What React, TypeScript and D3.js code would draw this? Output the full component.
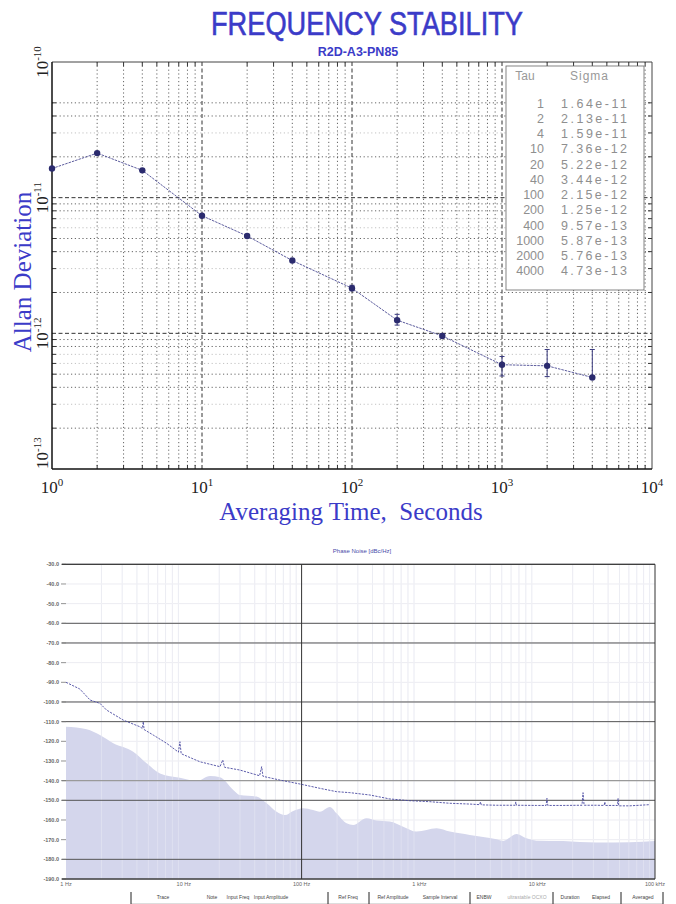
import React from 'react';
import * as d3 from 'd3';

// ---------- Allan deviation data ----------
const tauValues = [1, 2, 4, 10, 20, 40, 100, 200, 400, 1000, 2000, 4000];
const sigmaValues = [1.64e-11, 2.13e-11, 1.59e-11, 7.36e-12, 5.22e-12, 3.44e-12, 2.15e-12, 1.25e-12, 9.57e-13, 5.87e-13, 5.76e-13, 4.73e-13];
const sigmaText = ['1.64e-11', '2.13e-11', '1.59e-11', '7.36e-12', '5.22e-12', '3.44e-12', '2.15e-12', '1.25e-12', '9.57e-13', '5.87e-13', '5.76e-13', '4.73e-13'];
const errLower = [null, null, null, null, null, null, 2.06e-12, 1.15e-12, 0.93e-12, 4.85e-13, 4.8e-13, 4.73e-13];
const errUpper = [null, null, null, null, null, null, 2.26e-12, 1.38e-12, 0.99e-12, 6.75e-13, 7.6e-13, 7.6e-13];
const xDecades = [1, 10, 100, 1000, 10000];
const xDecadeExp = ['0', '1', '2', '3', '4'];
const yDecades = [1e-13, 1e-12, 1e-11, 1e-10];
const yDecadeExp = ['-13', '-12', '-11', '-10'];

// ---------- Phase noise data ----------
const noiseFreq = [1, 1.31, 1.6, 1.94, 2.21, 3.06, 4.24, 4.45, 4.53, 4.6, 5.5, 7.15, 9.0, 9.27, 9.5, 13.7, 20.3, 21.4, 22.2, 29.9, 44, 45.8, 47, 65.5, 96.8, 143, 198, 257, 380, 561, 830, 1227, 1813, 2680, 3250, 3300, 3350, 4515, 6500, 6580, 6660, 9860, 11900, 12100, 12300, 16500, 24000, 24500, 25000, 31850, 37000, 37500, 38000, 48000, 48600, 49200, 61100, 90200];
const noiseDb = [-90, -93.4, -99, -100.7, -104.1, -109.2, -112.6, -113.5, -110, -114, -116.8, -121, -125.5, -120.2, -126.3, -130.4, -132.9, -129.5, -133.2, -134.6, -137.5, -132.9, -137.8, -139.7, -141.7, -143.9, -145.6, -146.1, -147.3, -149.3, -150.2, -150.7, -151.5, -151.9, -152.2, -150.8, -152.3, -152.5, -152.5, -150.8, -152.5, -152.6, -152.6, -149, -152.6, -152.6, -152.5, -146.1, -152.5, -152.5, -152.6, -150.8, -152.6, -152.6, -149, -152.8, -152.8, -152.2];
const floorFreq = [1, 1.5, 1.94, 2.52, 3.72, 4.84, 6.28, 9.27, 12.9, 16.7, 20.3, 26.3, 29.9, 41.5, 50.5, 61.4, 72.2, 84.9, 103, 125, 143, 174, 198, 241, 274, 356, 433, 561, 728, 946, 1400, 1813, 2680, 4515, 5140, 6670, 8110, 9860, 16600, 31850, 61100, 100000];
const floorDb = [-112.6, -113.9, -116.8, -121, -125.3, -131.2, -136.3, -138.5, -140.2, -137.6, -138.3, -144.7, -147.3, -148.1, -151.5, -155.8, -157.5, -155.4, -154, -154.9, -155.8, -153.4, -156.6, -161.7, -162.5, -159.1, -160.3, -160.8, -163.4, -165.9, -164.2, -165.9, -167.6, -169.8, -170.7, -167.1, -169.3, -170.5, -170.7, -171.5, -171.3, -170.7];
const pnTicks = [-30, -40, -50, -60, -70, -80, -90, -100, -110, -120, -130, -140, -150, -160, -170, -180, -190];
const pnDarkTicks = [-30, -60, -70, -100, -110, -150, -180, -190];
const pnMidTicks = [-140];
const freqTicks = [1, 10, 100, 1000, 10000, 100000];
const freqTickLabels = ['1 Hz', '10 Hz', '100 Hz', '1 kHz', '10 kHz', '100 kHz'];
const legendColumns = ['Trace', 'Note', 'Input Freq', 'Input Amplitude', 'Ref Freq', 'Ref Amplitude', 'Sample Interval', 'ENBW', 'ultrastable OCXO', 'Duration', 'Elapsed', 'Averaged'];

// layout constants
const legendColX = [163, 212, 238, 271, 348, 393, 440, 484, 527, 570, 601, 643];
const legendSepX = [131, 328, 369, 470, 553, 621, 663];

const BLUE = '#3b3bc8';

function TopChart() {
  const x = d3.scaleLog().domain([1, 1e4]).range([52, 652]);
  const y = d3.scaleLog().domain([1e-13, 1e-10]).range([469, 62]);
  const minorX: number[] = [];
  [1, 10, 100, 1000].forEach((d) => { for (let m = 2; m <= 9; m++) minorX.push(d * m); });
  const minorY: { v: number; m: number; d: number }[] = [];
  [1e-13, 1e-12, 1e-11].forEach((d, i) => {
    for (let m = 2; m <= 9; m++) {
      if (i === 2 && m >= 6) continue;
      minorY.push({ v: d * m, m, d: i });
    }
  });
  const idx = tauValues.map((_, i) => i);
  const line = d3.line<number>().x((i) => x(tauValues[i])).y((i) => y(sigmaValues[i]));
  const rowY0 = 107.5;
  const rowStep = 15.25;
  return (
    <g>
      <text x={367} y={35} textAnchor="middle" fontFamily="Liberation Sans, Arial, sans-serif" fontSize={33} fill={BLUE} stroke={BLUE} strokeWidth={0.6} textLength={312} lengthAdjust="spacingAndGlyphs">FREQUENCY STABILITY</text>
      <text x={358} y={56} textAnchor="middle" fontFamily="Liberation Sans, Arial, sans-serif" fontWeight="bold" fontSize={12.5} fill={BLUE}>R2D-A3-PN85</text>
      {/* minor vertical grid */}
      {minorX.map((v) => (
        <line key={'mx' + v} x1={x(v)} x2={x(v)} y1={62} y2={469} stroke="#555" strokeWidth={0.9} strokeDasharray="1.2,2.6" />
      ))}
      {minorY.map((o) => (
        <line key={'my' + o.v} x1={52} x2={652} y1={y(o.v)} y2={y(o.v)} stroke={[3, 6, 7].includes(o.m) ? '#bbb' : '#555'} strokeWidth={0.9} strokeDasharray="1.2,2.6" />
      ))}
      {xDecades.slice(1, -1).map((v) => (
        <line key={'dx' + v} x1={x(v)} x2={x(v)} y1={62} y2={469} stroke="#333" strokeWidth={1} strokeDasharray="4,2.5" />
      ))}
      {yDecades.slice(1, -1).map((v) => (
        <line key={'dy' + v} x1={52} x2={652} y1={y(v)} y2={y(v)} stroke="#333" strokeWidth={1} strokeDasharray="4,2.5" />
      ))}
      {/* ticks on borders */}
      {minorX.map((v) => (
        <g key={'tx' + v}>
          <line x1={x(v)} x2={x(v)} y1={62} y2={66} stroke="#333" />
          <line x1={x(v)} x2={x(v)} y1={469} y2={465} stroke="#333" />
        </g>
      ))}
      {minorY.map((o) => (
        <g key={'ty' + o.v}>
          <line x1={652} x2={648} y1={y(o.v)} y2={y(o.v)} stroke="#333" />
          <line x1={52} x2={56} y1={y(o.v)} y2={y(o.v)} stroke="#333" />
        </g>
      ))}
      {/* frame */}
      <line x1={52} x2={652} y1={62} y2={62} stroke="#444" strokeWidth={1} />
      <line x1={652} x2={652} y1={62} y2={469} stroke="#444" strokeWidth={1} />
      <line x1={52} x2={52} y1={62} y2={469} stroke="#111" strokeWidth={1.5} />
      <line x1={52} x2={652} y1={469} y2={469} stroke="#111" strokeWidth={1.5} />
      {/* data line */}
      <path d={line(idx) || ''} fill="none" stroke="#4a4a92" strokeWidth={0.9} strokeDasharray="2.5,1" />
      {idx.map((i) =>
        errLower[i] != null ? (
          <g key={'e' + i} stroke="#3c3c80" strokeWidth={1}>
            <line x1={x(tauValues[i])} x2={x(tauValues[i])} y1={y(errLower[i] as number)} y2={y(errUpper[i] as number)} />
            <line x1={x(tauValues[i]) - 2.5} x2={x(tauValues[i]) + 2.5} y1={y(errUpper[i] as number)} y2={y(errUpper[i] as number)} />
            <line x1={x(tauValues[i]) - 2.5} x2={x(tauValues[i]) + 2.5} y1={y(errLower[i] as number)} y2={y(errLower[i] as number)} />
          </g>
        ) : null
      )}
      {idx.map((i) => (
        <circle key={'p' + i} cx={x(tauValues[i])} cy={y(sigmaValues[i])} r={3.2} fill="#2b2b6e" />
      ))}
      {/* tick labels */}
      {xDecades.map((v, i) => (
        <text key={'xl' + v} x={x(v)} y={493} textAnchor="middle" fontFamily="Liberation Serif, serif" fontSize={17} fill="#222">
          10<tspan dy={-7} fontSize={11}>{xDecadeExp[i]}</tspan>
        </text>
      ))}
      {yDecades.map((v, i) => (
        <text key={'yl' + v} transform={`translate(48,${y(v)}) rotate(-90)`} textAnchor={i === 0 ? 'start' : 'middle'} fontFamily="Liberation Serif, serif" fontSize={17} fill="#222">
          10<tspan dy={-7} fontSize={11}>{yDecadeExp[i]}</tspan>
        </text>
      ))}
      <text transform="translate(31,272) rotate(-90)" textAnchor="middle" fontFamily="Liberation Serif, serif" fontSize={25} fill={BLUE}>Allan Deviation</text>
      <text x={351} y={520} textAnchor="middle" fontFamily="Liberation Serif, serif" fontSize={25} fill={BLUE} style={{ whiteSpace: 'pre' }}>{'Averaging Time,  Seconds'}</text>
      {/* table */}
      <rect x={506} y={66} width={138} height={224} fill="#fff" stroke="#666" strokeWidth={0.8} />
      <text x={525} y={80} textAnchor="middle" fontFamily="Liberation Sans, Arial, sans-serif" fontSize={12} fill="#999">Tau</text>
      <text x={589} y={80} textAnchor="middle" fontFamily="Liberation Sans, Arial, sans-serif" fontSize={12} fill="#999" textLength={38}>Sigma</text>
      {idx.map((i) => (
        <g key={'r' + i} fontFamily="Liberation Sans, Arial, sans-serif" fontSize={12.5} fill="#8f8f8f">
          <text x={544} y={rowY0 + i * rowStep} textAnchor="end">{tauValues[i]}</text>
          <text x={561} y={rowY0 + i * rowStep} textLength={66} lengthAdjust="spacing">{sigmaText[i]}</text>
        </g>
      ))}
    </g>
  );
}

function BottomChart() {
  const x = d3.scaleLog().domain([1, 1e5]).range([66, 655]);
  const y = d3.scaleLinear().domain([-190, -30]).range([879, 564.3]);
  const minorX: number[] = [];
  [1, 10, 100, 1000, 10000].forEach((d) => { for (let m = 2; m <= 9; m++) minorX.push(d * m); });
  const fIdx = floorFreq.map((_, i) => i);
  const nIdx = noiseFreq.map((_, i) => i);
  const area = d3.area<number>().x((i) => x(floorFreq[i])).y0(879).y1((i) => y(floorDb[i])).curve(d3.curveMonotoneX);
  const line = d3.line<number>().x((i) => x(noiseFreq[i])).y((i) => y(noiseDb[i]));
  return (
    <g>
      <text x={362} y={553} textAnchor="middle" fontFamily="Liberation Sans, Arial, sans-serif" fontSize={6} fill="#4a4aa8">Phase Noise [dBc/Hz]</text>
      {/* light grid */}
      {minorX.map((v) => (
        <line key={'vx' + v} x1={x(v)} x2={x(v)} y1={564.3} y2={879} stroke="#e6e7f0" strokeWidth={1} />
      ))}
      {pnTicks.map((v) => (
        <line key={'hl' + v} x1={66} x2={655} y1={y(v)} y2={y(v)} stroke="#ececf2" strokeWidth={1} />
      ))}
      <path d={area(fIdx) || ''} fill="#d4d6ec" />
      {minorX.map((v) => (
        <line key={'vx2' + v} x1={x(v)} x2={x(v)} y1={564.3} y2={879} stroke="#ffffff" strokeOpacity={0.25} strokeWidth={1} />
      ))}
      {pnDarkTicks.map((v) => (
        <line key={'hd' + v} x1={62} x2={655} y1={y(v)} y2={y(v)} stroke="#555" strokeWidth={1} />
      ))}
      {pnMidTicks.map((v) => (
        <line key={'hm' + v} x1={62} x2={655} y1={y(v)} y2={y(v)} stroke="#9a9a9a" strokeWidth={1.2} />
      ))}
      {pnTicks.map((v) => (
        <line key={'tk' + v} x1={61} x2={66} y1={y(v)} y2={y(v)} stroke="#777" strokeWidth={0.8} />
      ))}
      <line x1={x(100)} x2={x(100)} y1={564.3} y2={879} stroke="#333" strokeWidth={1} />
      <line x1={655} x2={655} y1={564.3} y2={879} stroke="#333" strokeWidth={1} />
      <line x1={62} x2={655} y1={564.3} y2={564.3} stroke="#333" strokeWidth={1} />
      <line x1={62} x2={655} y1={879} y2={879} stroke="#333" strokeWidth={1} />
      <path d={line(nIdx) || ''} fill="none" stroke="#4a4aa0" strokeWidth={0.9} strokeDasharray="2.2,1.2" />
      {pnTicks.map((v) => (
        <text key={'yl' + v} x={59} y={y(v) + 2} textAnchor="end" fontFamily="Liberation Sans, Arial, sans-serif" fontSize={5.5} fontWeight="bold" fill="#666">{v.toFixed(1)}</text>
      ))}
      {freqTicks.map((v, i) => (
        <text key={'xl' + v} x={x(v)} y={886} textAnchor="middle" fontFamily="Liberation Sans, Arial, sans-serif" fontSize={5.5} fill="#666">{freqTickLabels[i]}</text>
      ))}
      {/* legend header */}
      <line x1={131} x2={663} y1={903.5} y2={903.5} stroke="#ddd" strokeWidth={1} />
      {legendSepX.map((sx) => (
        <line key={'sep' + sx} x1={sx} x2={sx} y1={892} y2={904} stroke="#222" strokeWidth={1} />
      ))}
      {legendColumns.map((c, i) => (
        <text key={'lc' + i} x={legendColX[i]} y={899} textAnchor="middle" fontFamily="Liberation Sans, Arial, sans-serif" fontSize={5} fill={c.startsWith('ultra') ? '#aaa' : '#444'}>{c}</text>
      ))}
    </g>
  );
}

export default function App() {
  return (
    <svg width={676} height={904} viewBox="0 0 676 904" style={{ position: 'absolute', left: 0, top: 0, background: '#fff' }}>
      <rect x={0} y={0} width={676} height={904} fill="#fff" />
      <TopChart />
      <BottomChart />
    </svg>
  );
}
